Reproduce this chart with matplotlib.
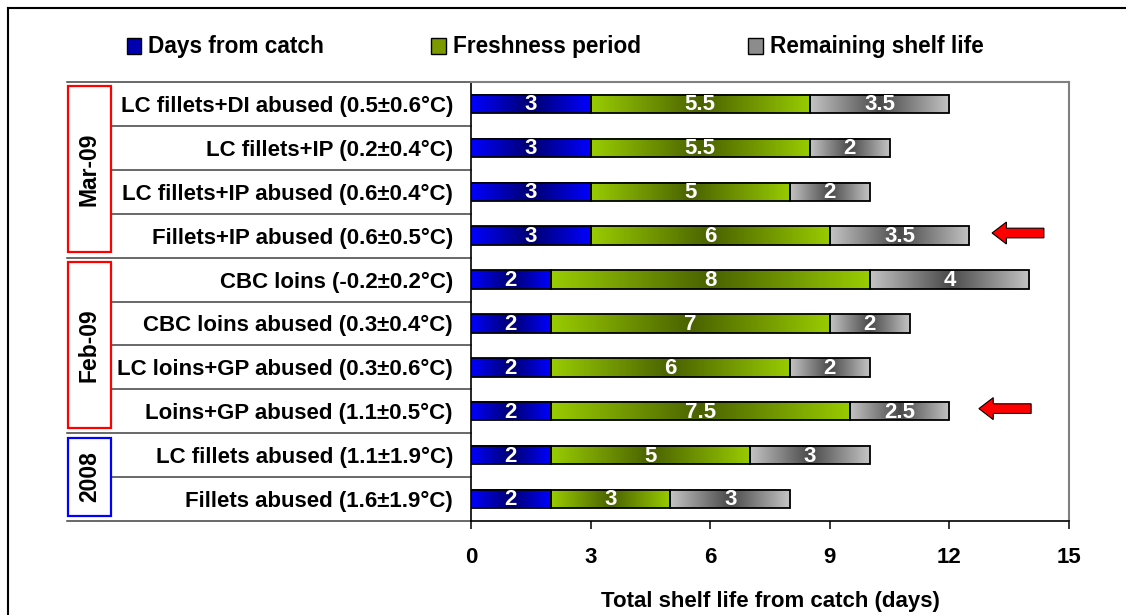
import numpy as np
import matplotlib.pyplot as plt
from matplotlib.patches import Rectangle, FancyArrow, Patch
from matplotlib.colors import LinearSegmentedColormap

rows = ['LC fillets+DI abused (0.5±0.6°C)', 'LC fillets+IP (0.2±0.4°C)',
        'LC fillets+IP abused (0.6±0.4°C)', 'Fillets+IP abused (0.6±0.5°C)',
        'CBC loins (-0.2±0.2°C)', 'CBC loins abused (0.3±0.4°C)',
        'LC loins+GP abused (0.3±0.6°C)', 'Loins+GP abused (1.1±0.5°C)',
        'LC fillets abused (1.1±1.9°C)', 'Fillets abused (1.6±1.9°C)']
series = ['Days from catch', 'Freshness period', 'Remaining shelf life']
days_catch = [3, 3, 3, 3, 2, 2, 2, 2, 2, 2]
freshness = [5.5, 5.5, 5, 6, 8, 7, 6, 7.5, 5, 3]
remaining = [3.5, 2, 2, 3.5, 4, 2, 2, 2.5, 3, 3]

groups = ['Mar-09', 'Feb-09', '2008']
group_rows = [(0, 3), (4, 7), (8, 9)]
group_colors = ['#ff0000', '#ff0000', '#0000ff']

arrow_rows = [3, 7]
arrow_tip = [13.07, 12.74]
arrow_tail = [14.37, 14.05]

# edge colour, centre colour of each bar gradient
grads = [('#0000ff', '#000070'), ('#99cc00', '#4a6200'), ('#c4c4c4', '#4a4a4a')]
legend_cols = ['#0000b0', '#7a9a00', '#8c8c8c']

plt.rcParams['font.family'] = 'Liberation Sans'
plt.rcParams['font.weight'] = 'bold'
fs = 16

fig = plt.figure(figsize=(11.26, 6.15), dpi=100)
ax = fig.add_axes([471/1126, 1 - 521/615, 598/1126, 439/615])

y = np.arange(len(rows))
left = np.zeros(len(rows))
g = np.linspace(0, 1, 256).reshape(1, -1)
for vals, (edge, mid) in zip([days_catch, freshness, remaining], grads):
    cmap = LinearSegmentedColormap.from_list('', [edge, mid, edge])
    bars = ax.barh(y, vals, left=left, height=0.42, facecolor='none',
                   edgecolor='black', lw=1.3, zorder=3)
    for b, v in zip(bars, vals):
        x0, y0, w, h = b.get_x(), b.get_y(), b.get_width(), b.get_height()
        ax.imshow(g, cmap=cmap, extent=(x0, x0 + w, y0 + h, y0), aspect='auto',
                  zorder=2, interpolation='bilinear')
        ax.text(x0 + w/2, y0 + h/2 + 0.02, f'{v:g}', color='white', fontsize=16,
                ha='center', va='center', zorder=4)
    left += np.array(vals)

ax.set_xlim(0, 15)
ax.set_ylim(len(rows) - 0.5, -0.5)
ax.set_xticks(np.arange(0, 16, 3))
ax.tick_params(axis='x', direction='out', length=6, width=1.1, pad=13, labelsize=fs)
ax.set_yticks(y, rows)
ax.tick_params(axis='y', length=0, pad=13, labelsize=fs)
ax.set_xlabel('Total shelf life from catch (days)', fontsize=fs, fontweight='bold',
              labelpad=16)
for s in ['top', 'right']:
    ax.spines[s].set_color('#808080')
    ax.spines[s].set_linewidth(1.5)
for s in ['left', 'bottom']:
    ax.spines[s].set_color('black')
    ax.spines[s].set_linewidth(1.2)

# label table on the left
trans = ax.get_yaxis_transform()
box_l, box_r = (68 - 471)/598, (111 - 471)/598
bounds = [r[0] - 0.5 for r in group_rows] + [group_rows[-1][1] + 0.5]
for b in np.arange(-0.5, len(rows), 1.0):
    x_start = box_l - 0.002 if b in bounds else box_r
    ax.plot([x_start, 0], [b, b], transform=trans, clip_on=False,
            color='#404040', lw=1.1, zorder=1)
for name, (r0, r1), c in zip(groups, group_rows, group_colors):
    top, bot = r0 - 0.5 + 0.1, r1 + 0.5 - 0.12
    ax.add_patch(Rectangle((box_l, top), box_r - box_l, bot - top, transform=trans,
                           fill=False, ec=c, lw=1.6, clip_on=False))
    ax.text((box_l + box_r)/2, (top + bot)/2, name, rotation=90, ha='center',
            va='center', fontsize=16.5, transform=trans)

for r, tip, tail in zip(arrow_rows, arrow_tip, arrow_tail):
    ax.add_patch(FancyArrow(tail, r - 0.06, tip - tail, 0, width=0.22, head_width=0.5,
                            head_length=0.36, length_includes_head=True,
                            fc='red', ec='black', lw=0.8, clip_on=False, zorder=5))

handles = [Patch(facecolor=c, edgecolor='black', lw=1) for c in legend_cols]
fig.legend(handles, series, loc='center', bbox_to_anchor=(0.493, 1 - 47/615), ncol=3,
           frameon=False, fontsize=16.3, handlelength=0.65, handleheight=0.7,
           handletextpad=0.3, columnspacing=4.75)

# outer frame
fig.add_artist(plt.Line2D([8/1126, 8/1126], [0, 1 - 8/615], transform=fig.transFigure,
                          color='black', lw=1.5))
fig.add_artist(plt.Line2D([8/1126, 1], [1 - 8/615, 1 - 8/615], transform=fig.transFigure,
                          color='black', lw=1.5))

fig.savefig('out.png', dpi=100)
